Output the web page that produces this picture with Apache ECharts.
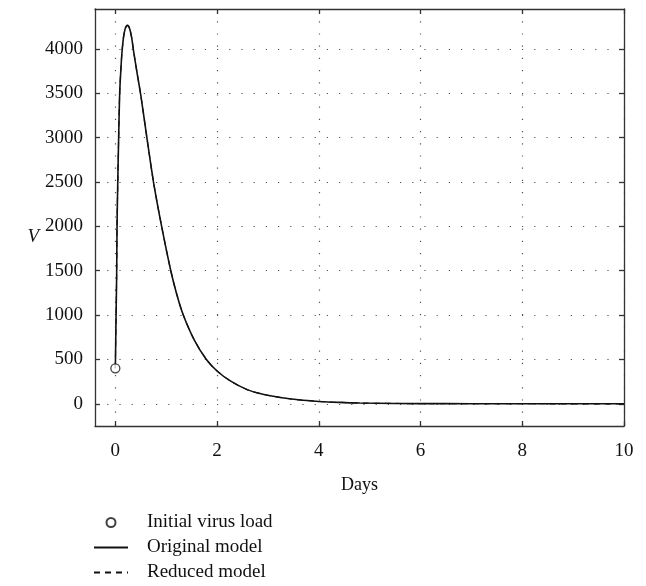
<!DOCTYPE html>
<html>
<head>
<meta charset="utf-8">
<script src="https://cdn.jsdelivr.net/npm/echarts@6/dist/echarts.min.js"></script>
<style>html,body{margin:0;padding:0;background:#fff}#c{width:646px;height:586px}</style>
</head>
<body>
<div id="c"></div>
<script>
var days = [0, 0.013, 0.026, 0.033, 0.046, 0.065, 0.085, 0.11, 0.13, 0.16, 0.19, 0.215, 0.24, 0.28, 0.32, 0.36, 0.43, 0.50, 0.62, 0.75, 0.91, 1.09, 1.2, 1.33, 1.55, 1.79, 2.0, 2.26, 2.59, 2.9, 3.24, 3.6, 4.0, 4.4, 4.81, 5.5, 6.5, 7.5, 8.5, 10];
var originalV = [400, 950, 1470, 2000, 2450, 3000, 3500, 3780, 3960, 4130, 4220, 4255, 4265, 4230, 4130, 3970, 3720, 3480, 3000, 2500, 2000, 1500, 1250, 1010, 722, 500, 370, 258, 160, 108, 72, 45, 27, 16, 9, 4, 2, 1, 0.5, 0.2];
var reducedV = [400, 950, 1470, 2000, 2450, 3000, 3500, 3780, 3960, 4130, 4220, 4255, 4265, 4230, 4130, 3970, 3720, 3480, 3000, 2500, 2000, 1500, 1250, 1010, 722, 500, 370, 258, 160, 108, 72, 45, 27, 16, 9, 4, 2, 1, 0.5, 0.2];
var initialLoad = [[0, 400]];
var xTicks = [0, 2, 4, 6, 8, 10];
var yTicks = [0, 500, 1000, 1500, 2000, 2500, 3000, 3500, 4000];

var FONT = 'Liberation Serif';
function pairs(xs, ys) { return xs.map(function (x, i) { return [x, ys[i]]; }); }

var axisLineStyle = { color: '#333', width: 1.3 };
var gridLine = { color: '#555', width: 1.2, type: [1.2, 11] };

var chart = echarts.init(document.getElementById('c'));
chart.setOption({
  animation: false,
  grid: { left: 95, right: 22, top: 9, bottom: 160, containLabel: false },
  textStyle: { fontFamily: FONT },
  xAxis: [{
    type: 'value', min: -0.4, max: 10,
    name: 'Days', nameLocation: 'middle', nameGap: 50,
    nameTextStyle: { fontFamily: FONT, fontSize: 18, color: '#111' },
    axisLine: { show: true, onZero: false, lineStyle: axisLineStyle },
    axisTick: { show: true, inside: true, length: 5, lineStyle: axisLineStyle, customValues: xTicks },
    axisLabel: { customValues: xTicks, fontFamily: FONT, fontSize: 19, color: '#111', margin: 16 },
    splitLine: { show: true, lineStyle: gridLine }
  }, {
    type: 'value', min: -0.4, max: 10, position: 'top',
    axisLine: { show: true, onZero: false, lineStyle: axisLineStyle },
    axisTick: { show: true, inside: true, length: 5, lineStyle: axisLineStyle, customValues: xTicks },
    axisLabel: { show: false, customValues: xTicks },
    splitLine: { show: false }
  }],
  yAxis: [{
    type: 'value', min: -250, max: 4450,
    name: 'V', nameLocation: 'middle', nameGap: 55, nameRotate: 0,
    nameTextStyle: { fontFamily: FONT, fontSize: 19, fontStyle: 'italic', color: '#111', verticalAlign: 'top', padding: [10, 0, 0, 0] },
    axisLine: { show: true, onZero: false, lineStyle: axisLineStyle },
    axisTick: { show: true, inside: true, length: 5, lineStyle: axisLineStyle, customValues: yTicks },
    axisLabel: { customValues: yTicks, fontFamily: FONT, fontSize: 19, color: '#111', margin: 12,
      formatter: function (v) { return String(v); } },
    splitLine: { show: true, lineStyle: gridLine }
  }, {
    type: 'value', min: -250, max: 4450, position: 'right',
    axisLine: { show: true, onZero: false, lineStyle: axisLineStyle },
    axisTick: { show: true, inside: true, length: 5, lineStyle: axisLineStyle, customValues: yTicks },
    axisLabel: { show: false, customValues: yTicks },
    splitLine: { show: false }
  }],
  legend: {
    orient: 'vertical', left: 88, top: 508, height: 120, itemGap: 6,
    itemWidth: 34, itemHeight: 9,
    textStyle: { fontFamily: FONT, fontSize: 19, color: '#111', padding: [0, 0, 0, 14] },
    data: ['Initial virus load', 'Original model', 'Reduced model']
  },
  series: [{
    name: 'Original model', type: 'line', xAxisIndex: 0, yAxisIndex: 0,
    data: pairs(days, originalV), showSymbol: false, symbol: 'none', smooth: 0.3,
    itemStyle: { color: '#111', opacity: 0 },
    lineStyle: { color: '#111', width: 1.6, type: 'solid' }, z: 3
  }, {
    name: 'Reduced model', type: 'line', xAxisIndex: 0, yAxisIndex: 0,
    data: pairs(days, reducedV), showSymbol: false, symbol: 'none', smooth: 0.3,
    itemStyle: { color: '#111', opacity: 0 },
    lineStyle: { color: '#111', width: 1.2, type: [6, 5] }, z: 4
  }, {
    name: 'Initial virus load', type: 'scatter', xAxisIndex: 0, yAxisIndex: 0,
    data: initialLoad, symbol: 'circle', symbolSize: 9,
    itemStyle: { color: '#fff', borderColor: '#111', borderWidth: 1.3 }, z: 5
  }]
});
</script>
</body>
</html>
